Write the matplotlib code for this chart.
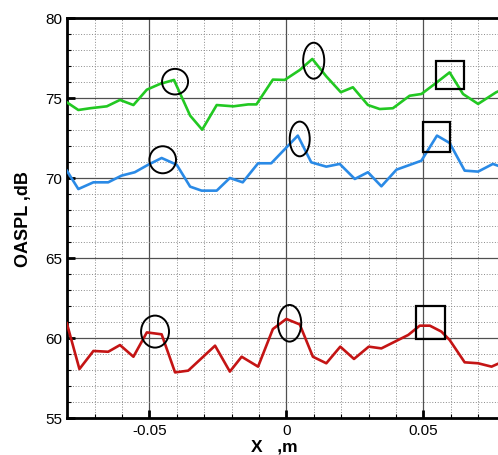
import matplotlib
matplotlib.use('Agg')
import matplotlib.pyplot as plt
from matplotlib.patches import Ellipse, Rectangle
from matplotlib.ticker import MultipleLocator

plt.rcParams['font.family'] = ['Liberation Sans', 'DejaVu Sans']

# Green curve
green_x = [-0.0801, -0.0759, -0.0716, -0.0655, -0.0607, -0.0558, -0.0509, -0.0461,
           -0.0410, -0.0351, -0.0307, -0.0254, -0.0193, -0.0139, -0.0109, -0.0049,
           -0.0006, 0.0049, 0.0095, 0.0146, 0.0199, 0.0243, 0.0298, 0.0341, 0.0389,
           0.0450, 0.0493, 0.0542, 0.0596, 0.0645, 0.0700, 0.0766, 0.0800]
green_y = [74.73, 74.25, 74.36, 74.48, 74.88, 74.56, 75.52, 75.88,
           76.13, 73.90, 73.02, 74.56, 74.48, 74.60, 74.60, 76.15,
           76.13, 76.75, 77.44, 76.35, 75.36, 75.67, 74.56, 74.31, 74.36,
           75.14, 75.25, 75.88, 76.60, 75.25, 74.63, 75.36, 75.60]

# Blue curve
blue_x = [-0.0801, -0.0759, -0.0704, -0.0650, -0.0601, -0.0553, -0.0504, -0.0455,
          -0.0400, -0.0351, -0.0309, -0.0254, -0.0206, -0.0159, -0.0103,
          -0.0055, 0.0042, 0.0091, 0.0146, 0.0195, 0.0250, 0.0298, 0.0347,
          0.0402, 0.0493, 0.0550, 0.0596, 0.0651, 0.0700, 0.0754, 0.0800]
blue_y = [70.46, 69.31, 69.73, 69.73, 70.15, 70.36, 70.83, 71.25,
          70.83, 69.46, 69.21, 69.21, 70.00, 69.73, 70.92,
          70.92, 72.65, 70.98, 70.71, 70.88, 69.94, 70.36, 69.48,
          70.52, 71.08, 72.65, 72.19, 70.46, 70.40, 70.88, 70.60]

# Red curve
red_x = [-0.0801, -0.0755, -0.0704, -0.0650, -0.0607, -0.0558, -0.0509, -0.0455,
         -0.0406, -0.0358, -0.0260, -0.0206, -0.0163, -0.0103,
         -0.0049, 0.0000, 0.0049, 0.0097, 0.0146, 0.0197, 0.0247, 0.0301, 0.0347,
         0.0396, 0.0445, 0.0487, 0.0524, 0.0566, 0.0596, 0.0651, 0.0700, 0.0749, 0.0800]
red_y = [60.92, 58.06, 59.19, 59.14, 59.56, 58.83, 60.35, 60.23,
         57.85, 57.96, 59.52, 57.90, 58.83, 58.21,
         60.56, 61.19, 60.85, 58.83, 58.42, 59.46, 58.69, 59.46, 59.35,
         59.77, 60.19, 60.77, 60.77, 60.40, 59.88, 58.48, 58.42, 58.21, 58.60]

# Ellipse markers: (x centre, y centre, width, height)
ellipses = [(-0.0406, 76.02, 0.0095, 1.60),
            (0.0100, 77.33, 0.0077, 2.25),
            (-0.0451, 71.14, 0.0097, 1.69),
            (0.0049, 72.44, 0.0073, 2.17),
            (-0.0479, 60.40, 0.0102, 2.00),
            (0.0012, 60.92, 0.0085, 2.29)]

# Square markers: (x left, y bottom, width, height)
squares = [(0.0545, 75.56, 0.0102, 1.77),
           (0.0499, 71.60, 0.0100, 1.92),
           (0.0472, 59.94, 0.0108, 2.06)]

fig = plt.figure(figsize=(4.98, 4.56), dpi=100)
ax = fig.add_axes([67.1 / 498, 1 - 419 / 456, 438.4 / 498, 400 / 456])

ax.plot(green_x, green_y, color='#22c822', linewidth=1.9, zorder=3)
ax.plot(blue_x, blue_y, color='#2a8ae6', linewidth=1.9, zorder=3)
ax.plot(red_x, red_y, color='#c41414', linewidth=1.9, zorder=3)

for cx, cy, w, h in ellipses:
    ax.add_patch(Ellipse((cx, cy), w, h, fill=False, edgecolor='black',
                         linewidth=1.4, zorder=4))
for x0, y0, w, h in squares:
    ax.add_patch(Rectangle((x0, y0), w, h, fill=False, edgecolor='black',
                           linewidth=1.6, zorder=4))

ax.set_xlim(-0.08, 0.08)
ax.set_ylim(55, 80)
ax.xaxis.set_major_locator(MultipleLocator(0.05))
ax.xaxis.set_minor_locator(MultipleLocator(0.01))
ax.yaxis.set_major_locator(MultipleLocator(5))
ax.yaxis.set_minor_locator(MultipleLocator(1))
ax.set_xticks([-0.05, 0, 0.05])
ax.set_xticklabels(['-0.05', '0', '0.05'])

ax.grid(True, which='major', color='#505050', linewidth=0.9, linestyle='-')
ax.grid(True, which='minor', color='#8a8a8a', linewidth=0.7, linestyle=(0, (1, 1.8)))
ax.set_axisbelow(True)

ax.tick_params(which='major', direction='in', length=6, width=2, labelsize=11,
               top=False, right=False)
ax.tick_params(which='minor', direction='in', length=3, width=0.8,
               top=False, right=False)

for side in ['left', 'bottom', 'top']:
    ax.spines[side].set_linewidth(2)
ax.spines['right'].set_visible(False)

ax.set_xlabel('X   ,m', fontsize=12.5, fontweight='bold')
ax.set_ylabel('OASPL ,dB', fontsize=13, fontweight='bold')
ax.xaxis.set_label_coords(0.473, -0.052)
ax.yaxis.set_label_coords(-0.080, 0.50)

fig.savefig('out.png', dpi=100)
